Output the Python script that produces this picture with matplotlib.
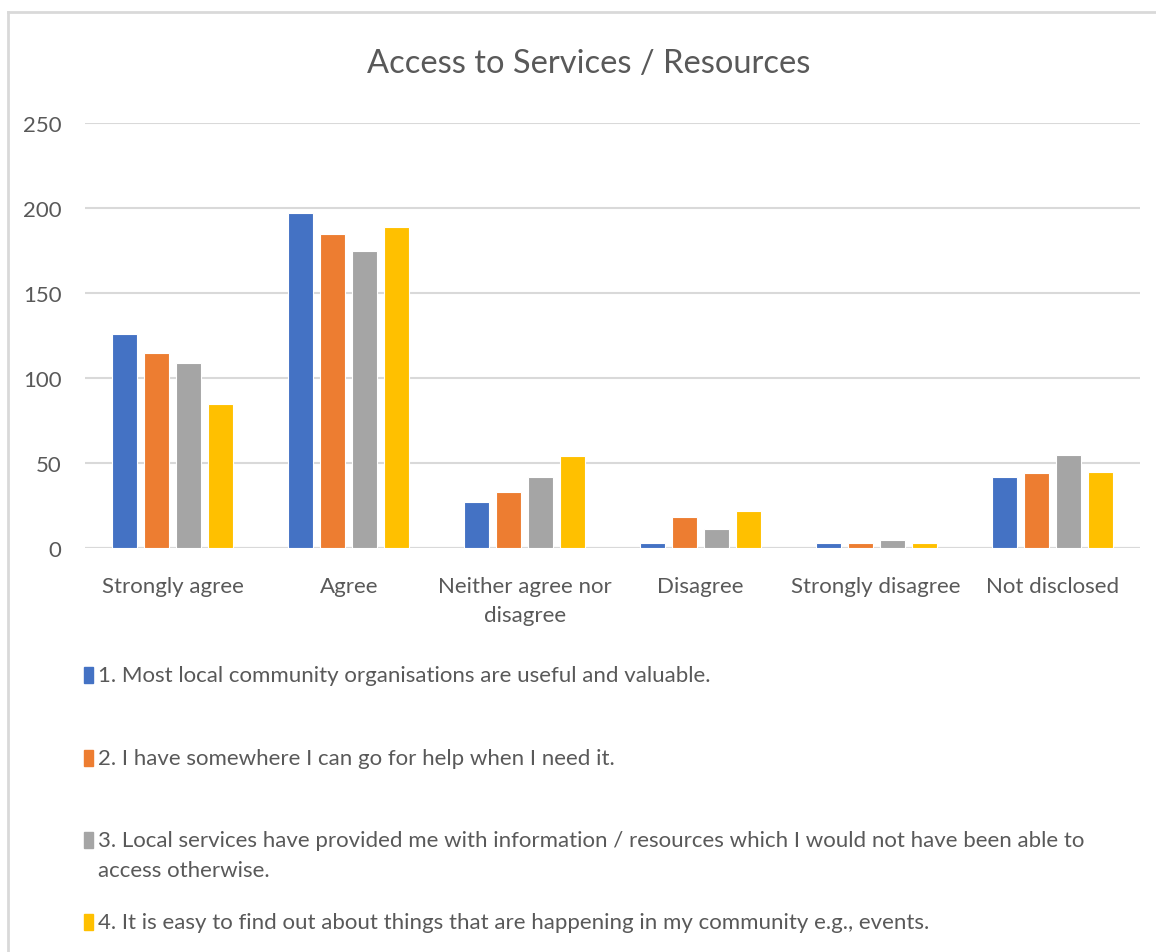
import matplotlib
matplotlib.use("Agg")
import matplotlib.pyplot as plt
import numpy as np
from matplotlib.patches import Rectangle
from matplotlib.lines import Line2D

categories = ["Strongly agree", "Agree", "Neither agree nor\ndisagree", "Disagree",
              "Strongly disagree", "Not disclosed"]
series_labels = [
    "1. Most local community organisations are useful and valuable.",
    "2. I have somewhere I can go for help when I need it.",
    "3. Local services have provided me with information / resources which I would not have been able to\naccess otherwise.",
    "4. It is easy to find out about things that are happening in my community e.g., events.",
]
s1 = [126, 197, 27, 3, 3, 42]
s2 = [115, 185, 33, 18, 3, 44]
s3 = [109, 175, 42, 11, 5, 55]
s4 = [85, 189, 54, 22, 3, 45]
series = [s1, s2, s3, s4]
colors = ["#4472C4", "#ED7D31", "#A5A5A5", "#FFC000"]
yticks = [0, 50, 100, 150, 200, 250]

plt.rcParams['font.family'] = ['Lato', 'DejaVu Sans']
txt = "#595959"
W, H = 1156, 953
fig = plt.figure(figsize=(W/100, H/100), dpi=100)
ax = fig.add_axes([85/W, 1-549/H, (1140-85)/W, (549-124)/H])

x = np.arange(len(categories))
pitch = 0.182
width = 0.142
for i, (vals, c) in enumerate(zip(series, colors)):
    ax.bar(x + (i - 1.5)*pitch, vals, width=width, color=c, edgecolor="white",
           linewidth=0.8, zorder=3)

ax.set_xlim(-0.5, len(categories)-0.5)
ax.set_ylim(0, 250)
ax.set_yticks(yticks)
ax.set_xticks(x)
ax.set_xticklabels(categories, fontsize=16, color=txt, linespacing=1.55)
ax.tick_params(axis='y', labelsize=16, labelcolor=txt, length=0, pad=17)
ax.tick_params(axis='x', length=0, pad=20)
ax.grid(axis='y', color="#d9d9d9", linewidth=1.5, zorder=0)
for s in ax.spines.values():
    s.set_visible(False)
ax.axhline(0, color="#d9d9d9", linewidth=1.5, zorder=2)

fig.text(589/W, 1-64/H, "Access to Services / Resources", ha='center', va='center',
         fontsize=23.5, color=txt)

# outer frame lines
fig.add_artist(Line2D([8/W, 1], [1-13/H, 1-13/H], color="#d9d9d9", linewidth=2, transform=fig.transFigure))
fig.add_artist(Line2D([8/W, 8/W], [1-13/H, 0], color="#d9d9d9", linewidth=2, transform=fig.transFigure))

# legend
ys = [676, 759, 841, 923]
for lab, c, yy in zip(series_labels, colors, ys):
    fig.add_artist(Rectangle((84/W, 1-(yy+8)/H), 9/W, 16/H, color=c, transform=fig.transFigure))
    for k, line in enumerate(lab.split("\n")):
        fig.text(98/W, 1-(yy + 30*k)/H, line, ha='left', va='center',
                 fontsize=16, color=txt)

fig.savefig("out.png", dpi=100, facecolor="white")
